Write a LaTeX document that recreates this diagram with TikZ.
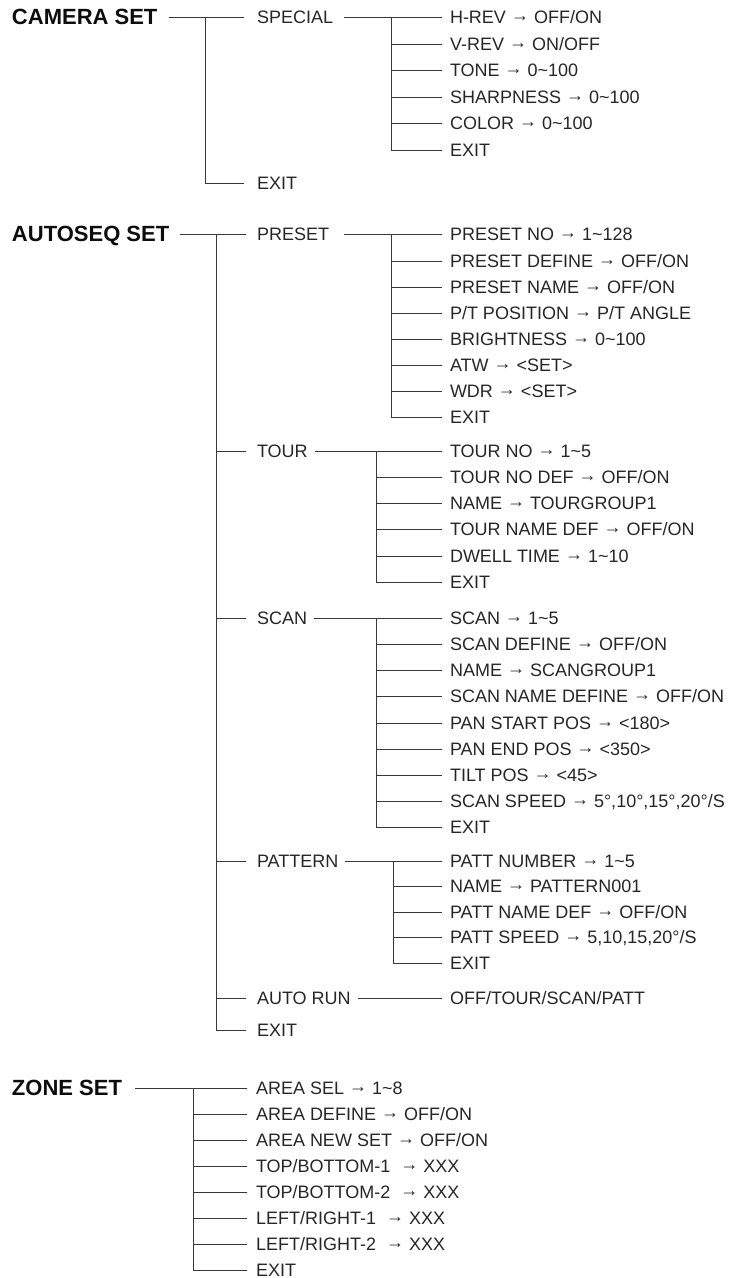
\documentclass[tikz,border=0pt]{standalone}
\usepackage{fontspec}
\setmainfont{Liberation Sans}
\newcommand\tld{\textasciitilde}
\newcommand\arr{\raisebox{2.2pt}{→}}
\tikzset{
  itm/.style={anchor=west, inner sep=0pt, outer sep=0pt,
    font=\fontsize{18}{20}\selectfont, text height=12.9pt, text depth=0pt, text=black!85},
  ttl/.style={itm, font=\fontsize{22}{24}\bfseries\selectfont, text height=15.8pt, text=black!95},
  ln/.style={draw=black!78, line width=1pt},
}
\begin{document}
\begin{tikzpicture}[x=1pt,y=-1pt]
\useasboundingbox (0,0) rectangle (737,1278);

% ---------------- CAMERA SET ----------------
\node[ttl] (cam) at (12,17) {CAMERA SET};
\node[itm] (sp)  at (257,17) {SPECIAL};
\node[itm] (cex) at (257,183) {EXIT};
\node[itm] (sp1) at (450,17)  {H-REV \arr{} OFF/ON};
\node[itm] (sp2) at (450,44)  {V-REV \arr{} ON/OFF};
\node[itm] (sp3) at (450,70)  {TONE \arr{} 0\tld100};
\node[itm] (sp4) at (450,97)  {SHARPNESS \arr{} 0\tld100};
\node[itm] (sp5) at (450,123) {COLOR \arr{} 0\tld100};
\node[itm] (sp6) at (450,150) {EXIT};
\coordinate (Tcam) at (205,17);
\coordinate (Tsp)  at (391,17);
\draw[ln] ([xshift=12pt]cam.east) -- ([xshift=-13pt]sp.west);
\draw[ln] (Tcam) |- ([xshift=-13pt]cex.west);
\draw[ln] ([xshift=11pt]sp.east) -- ([xshift=-8pt]sp1.west);
\draw[ln] (Tsp) |- ([xshift=-8pt]sp6.west);
\foreach \i in {2,...,5} \draw[ln] (Tsp |- sp\i.west) -- ([xshift=-8pt]sp\i.west);

% ---------------- AUTOSEQ SET ----------------
\node[ttl] (aut) at (12,234) {AUTOSEQ SET};
\node[itm] (pre) at (257,234) {PRESET};
\node[itm] (tou) at (257,451) {TOUR};
\node[itm] (sca) at (257,618) {SCAN};
\node[itm] (pat) at (257,861) {PATTERN};
\node[itm] (aru) at (257,998) {AUTO RUN};
\node[itm] (aex) at (257,1030) {EXIT};
\coordinate (Taut) at (216,234);
\draw[ln] ([xshift=11pt]aut.east) -- ([xshift=-11pt]pre.west);
\draw[ln] (Taut) |- ([xshift=-11pt]aex.west);
\foreach \n in {tou,sca,pat,aru} \draw[ln] (Taut |- \n.west) -- ([xshift=-11pt]\n.west);

% PRESET
\node[itm] (pr1) at (450,234) {PRESET NO \arr{} 1\tld128};
\node[itm] (pr2) at (450,261) {PRESET DEFINE \arr{} OFF/ON};
\node[itm] (pr3) at (450,287) {PRESET NAME \arr{} OFF/ON};
\node[itm] (pr4) at (450,313) {P/T POSITION \arr{} P/T ANGLE};
\node[itm] (pr5) at (450,339) {BRIGHTNESS \arr{} 0\tld100};
\node[itm] (pr6) at (450,365) {ATW \arr{} <SET>};
\node[itm] (pr7) at (450,391) {WDR \arr{} <SET>};
\node[itm] (pr8) at (450,417) {EXIT};
\coordinate (Tpre) at (391,234);
\draw[ln] ([xshift=15pt]pre.east) -- ([xshift=-8pt]pr1.west);
\draw[ln] (Tpre) |- ([xshift=-8pt]pr8.west);
\foreach \i in {2,...,7} \draw[ln] (Tpre |- pr\i.west) -- ([xshift=-8pt]pr\i.west);

% TOUR
\node[itm] (to1) at (450,451) {TOUR NO \arr{} 1\tld5};
\node[itm] (to2) at (450,477) {TOUR NO DEF \arr{} OFF/ON};
\node[itm] (to3) at (450,503) {NAME \arr{} TOURGROUP1};
\node[itm] (to4) at (450,529) {TOUR NAME DEF \arr{} OFF/ON};
\node[itm] (to5) at (450,556) {DWELL TIME \arr{} 1\tld10};
\node[itm] (to6) at (450,582) {EXIT};
\coordinate (Ttou) at (376,451);
\draw[ln] ([xshift=7pt]tou.east) -- ([xshift=-8pt]to1.west);
\draw[ln] (Ttou) |- ([xshift=-8pt]to6.west);
\foreach \i in {2,...,5} \draw[ln] (Ttou |- to\i.west) -- ([xshift=-8pt]to\i.west);

% SCAN
\node[itm] (sc1) at (450,618) {SCAN \arr{} 1\tld5};
\node[itm] (sc2) at (450,644) {SCAN DEFINE \arr{} OFF/ON};
\node[itm] (sc3) at (450,670) {NAME \arr{} SCANGROUP1};
\node[itm] (sc4) at (450,696) {SCAN NAME DEFINE \arr{} OFF/ON};
\node[itm] (sc5) at (450,723) {PAN START POS \arr{} <180>};
\node[itm] (sc6) at (450,749) {PAN END POS \arr{} <350>};
\node[itm] (sc7) at (450,775) {TILT POS \arr{} <45>};
\node[itm] (sc8) at (450,801) {SCAN SPEED \arr{} 5°,10°,15°,20°/S};
\node[itm] (sc9) at (450,827) {EXIT};
\coordinate (Tsca) at (376,618);
\draw[ln] ([xshift=7pt]sca.east) -- ([xshift=-8pt]sc1.west);
\draw[ln] (Tsca) |- ([xshift=-8pt]sc9.west);
\foreach \i in {2,...,8} \draw[ln] (Tsca |- sc\i.west) -- ([xshift=-8pt]sc\i.west);

% PATTERN
\node[itm] (pa1) at (450,861) {PATT NUMBER \arr{} 1\tld5};
\node[itm] (pa2) at (450,886) {NAME \arr{} PATTERN001};
\node[itm] (pa3) at (450,912) {PATT NAME DEF \arr{} OFF/ON};
\node[itm] (pa4) at (450,937) {PATT SPEED \arr{} 5,10,15,20°/S};
\node[itm] (pa5) at (450,963) {EXIT};
\coordinate (Tpat) at (393,861);
\draw[ln] ([xshift=7pt]pat.east) -- ([xshift=-8pt]pa1.west);
\draw[ln] (Tpat) |- ([xshift=-8pt]pa5.west);
\foreach \i in {2,...,4} \draw[ln] (Tpat |- pa\i.west) -- ([xshift=-8pt]pa\i.west);

% AUTO RUN
\node[itm] (ar1) at (450,998) {OFF/TOUR/SCAN/PATT};
\draw[ln] ([xshift=7pt]aru.east) -- ([xshift=-8pt]ar1.west);

% ---------------- ZONE SET ----------------
\node[ttl] (zon) at (12,1088) {ZONE SET};
\node[itm] (zo1) at (256,1088) {AREA SEL \arr{} 1\tld8};
\node[itm] (zo2) at (256,1114) {AREA DEFINE \arr{} OFF/ON};
\node[itm] (zo3) at (256,1140) {AREA NEW SET \arr{} OFF/ON};
\node[itm] (zo4) at (256,1166) {TOP/BOTTOM-1 \ \arr{} XXX};
\node[itm] (zo5) at (256,1192) {TOP/BOTTOM-2 \ \arr{} XXX};
\node[itm] (zo6) at (256,1218) {LEFT/RIGHT-1 \ \arr{} XXX};
\node[itm] (zo7) at (256,1244) {LEFT/RIGHT-2 \ \arr{} XXX};
\node[itm] (zo8) at (256,1270) {EXIT};
\coordinate (Tzon) at (193,1088);
\draw[ln] ([xshift=13pt]zon.east) -- ([xshift=-9pt]zo1.west);
\draw[ln] (Tzon) |- ([xshift=-9pt]zo8.west);
\foreach \i in {2,...,7} \draw[ln] (Tzon |- zo\i.west) -- ([xshift=-9pt]zo\i.west);
\end{tikzpicture}
\end{document}
